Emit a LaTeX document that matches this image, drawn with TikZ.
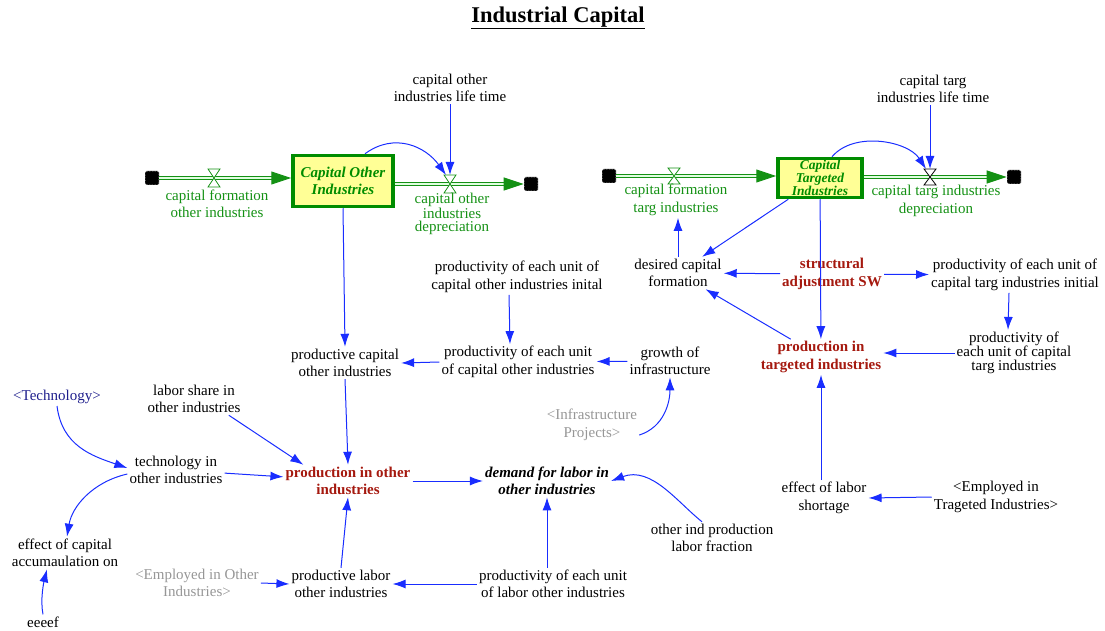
\documentclass[tikz,border=0pt]{standalone}
\usepackage{fontspec}
\setmainfont{Liberation Serif}
\usetikzlibrary{arrows.meta}

\definecolor{linkblue}{RGB}{25,45,255}
\definecolor{flowgreen}{RGB}{20,145,20}
\definecolor{stockgreen}{RGB}{0,140,0}
\definecolor{stockfill}{RGB}{255,255,150}
\definecolor{darkred}{RGB}{165,25,15}
\definecolor{ghost}{RGB}{150,150,150}
\definecolor{navy}{RGB}{30,30,140}

\newcommand\lblfont{\fontsize{15}{17.5}\selectfont}
\newcommand\tightfont{\fontsize{15}{13.5}\selectfont}

\tikzset{
  lbl/.style={align=center, font=\lblfont, inner sep=2pt, text=black},
  hot/.style={lbl, text=darkred, font=\lblfont\bfseries},
  flowlbl/.style={lbl, text=flowgreen},
  stock/.style={draw=stockgreen, fill=stockfill, line width=3.5pt, align=center,
    text=stockgreen, font=\lblfont\bfseries\itshape, inner sep=1pt},
  cloudnode/.style={fill=black, draw=white, densely dotted, line width=0.6pt,
    minimum size=14pt, inner sep=0pt, rounded corners=1.5pt},
  valvenode/.style={minimum width=12pt, minimum height=18pt, inner sep=0pt, outer sep=0pt},
  valveline/.style={draw=flowgreen, fill=white, line width=0.8pt},
  pipe/.style={draw=flowgreen, line width=1pt, double=green!12, double distance=2pt,
    -{Triangle[length=20pt,width=13pt]}},
  link/.style={draw=linkblue, line width=1pt, -{Latex[length=13pt,width=9pt]}}
}

\begin{document}
\begin{tikzpicture}[x=1pt,y=-1pt]
\useasboundingbox (0,0) rectangle (1105,631);

% title
\node (title) at (558,18) {\fontsize{22.5}{26}\selectfont\bfseries\underline{Industrial Capital}};

% stocks
\node[stock, minimum width=100pt, minimum height=51pt] (coi) at (343,181) {Capital Other\\Industries};
\node[stock, minimum width=84pt, minimum height=39pt, inner sep=0pt,
  font=\fontsize{13.5}{11.5}\selectfont\bfseries\itshape] (cti) at (820,178) {Capital\\Targeted\\Industries};

% sources and sinks
\node[cloudnode] (cl1) at (152,178) {};
\node[cloudnode] (cr1) at (531,184) {};
\node[cloudnode] (cl2) at (609,176) {};
\node[cloudnode] (cr2) at (1014,177) {};

% pipes
\draw[pipe] (cl1.east) -- (cl1.east -| coi.west);
\draw[pipe] (coi.east |- cr1) -- (cr1.west);
\draw[pipe] (cl2.east) -- (cl2.east -| cti.west);
\draw[pipe] (cti.east |- cr2) -- (cr2.west);

% valves
\node[valvenode] (v1) at (214,178) {};
\node[valvenode] (v2) at (450,184) {};
\node[valvenode, minimum height=16pt] (v3) at (674,176) {};
\node[valvenode, minimum height=16pt] (v4) at (930,177) {};
\foreach \v/\c in {v1/flowgreen, v2/flowgreen, v3/flowgreen, v4/black}
  \draw[valveline, draw=\c] (\v.north west) -- (\v.north east) -- (\v.south west) -- (\v.south east) -- cycle;

% flow labels
\node[flowlbl] (fl1) at (217,204) {capital formation\\other industries};
\node[flowlbl, font=\tightfont] (fl2) at (452,214) {capital other\\industries\\depreciation};
\node[flowlbl] (fl3) at (676,200) {capital formation\\targ industries};
\node[flowlbl] (fl4) at (936,201) {capital targ industries\\depreciation};

% auxiliaries
\node[lbl] (lt1) at (450,88) {capital other\\industries life time};
\node[lbl] (lt2) at (933,89) {capital targ\\industries life time};
\node[lbl] (pui) at (517,277) {productivity of each unit of\\capital other industries inital};
\node[lbl] (pu) at (518,362) {productivity of each unit\\of capital other industries};
\node[lbl] (gr) at (670,361) {growth of\\infrastructure};
\node[lbl] (pc) at (345,363) {productive capital\\other industries};
\node[lbl, text=ghost] (ip) at (592,425) {\textless Infrastructure\\Projects\textgreater};
\node[lbl] (ls) at (194,399) {labor share in\\other industries};
\node[lbl, text=navy] (t1) at (57,397) {\textless Technology\textgreater};
\node[lbl] (tech) at (176,470) {technology in\\other industries};
\node[hot] (pio) at (348,481) {production in other\\industries};
\node[lbl, font=\lblfont\bfseries\itshape] (dem) at (547,481) {demand for labor in\\other industries};
\node[lbl] (oip) at (712,538) {other ind production\\labor fraction};
\node[lbl] (ec) at (65,553) {effect of capital\\accumaulation on};
\node[lbl] (ee) at (43,622) {eeeef};
\node[lbl, text=ghost] (eo) at (197,583) {\textless Employed in Other\\Industries\textgreater};
\node[lbl] (pl) at (341,584) {productive labor\\other industries};
\node[lbl] (plu) at (553,584) {productivity of each unit\\of labor other industries};
\node[lbl] (de) at (678,273) {desired capital\\formation};
\node[hot] (st) at (832,274) {structural\\adjustment SW};
\node[lbl] (pti) at (1015,275) {productivity of each unit of\\capital targ industries initial};
\node[lbl, font=\fontsize{15}{14}\selectfont] (ptg) at (1014,353) {productivity of\\each unit of capital\\targ industries};
\node[hot] (pt) at (821,357) {production in\\targeted industries};
\node[lbl] (el) at (824,498) {effect of labor\\shortage};
\node[lbl] (et) at (996,497) {\textless Employed in\\Trageted Industries\textgreater};

% links into the valves
\draw[link] (lt1) -- (v2.north);
\draw[link] (lt2.south -| v4) -- (v4.north);
\draw[link] ([xshift=22pt]coi.north) .. controls +(30,-22) and +(-20,-28) .. ([xshift=-4pt]v2.north);
\draw[link] ([xshift=12pt]cti.north) .. controls +(22,-26) and +(-18,-28) .. ([xshift=-4pt]v4.north);

% other industries
\draw[link] (coi.south) -- (pc.north);
\draw[link] ([xshift=-8pt]pui.south) -- ([xshift=-8pt]pu.north);
\draw[link] (pu.west) -- (pc.east);
\draw[link] (gr) -- (pu);
\draw[link] (ip.-12) .. controls +(25,-8) and +(0,25) .. (gr.south);
\draw[link] (pc.south) -- (pio.north);
\draw[link] (ls.-25) -- (pio.160);
\draw[link] (tech) -- (pio);
\draw[link] (t1.south) .. controls +(5,40) and +(-35,-12) .. ([yshift=2pt]tech.west);
\draw[link] ([yshift=-4pt]tech.west) .. controls +(-35,8) and +(5,-30) .. ([xshift=2pt]ec.north);
\draw[link] (ee.north) .. controls +(-3,-15) and +(-3,12) .. ([xshift=-18pt]ec.south);
\draw[link] (pio) -- (dem);
\draw[link] ([xshift=-10pt]oip.north) .. controls +(-25,-20) and +(40,-15) .. (dem.east);
\draw[link] (dem.south |- plu.north) -- (dem.south);
\draw[link] (plu.west) -- (pl.east);
\draw[link] (eo.east) -- (pl.west);
\draw[link] (pl.north) -- (pio.south);

% targeted industries
\draw[link] (cti) -- (de);
\draw[link] (de.north) -- (de.north |- fl3.south);
\draw[link] (st) -- (de);
\draw[link] (st) -- (pti);
\draw[link] (cti) -- (pt);
\draw[link] (pt) -- (de);
\draw[link] ([xshift=-6pt]pti.south) -- ([xshift=-6pt]ptg.north);
\draw[link] (ptg.west) -- (ptg.west -| pt.east);
\draw[link] (pt.south |- el.north) -- (pt.south);
\draw[link] (et.west) -- (el.east);
\end{tikzpicture}
\end{document}
